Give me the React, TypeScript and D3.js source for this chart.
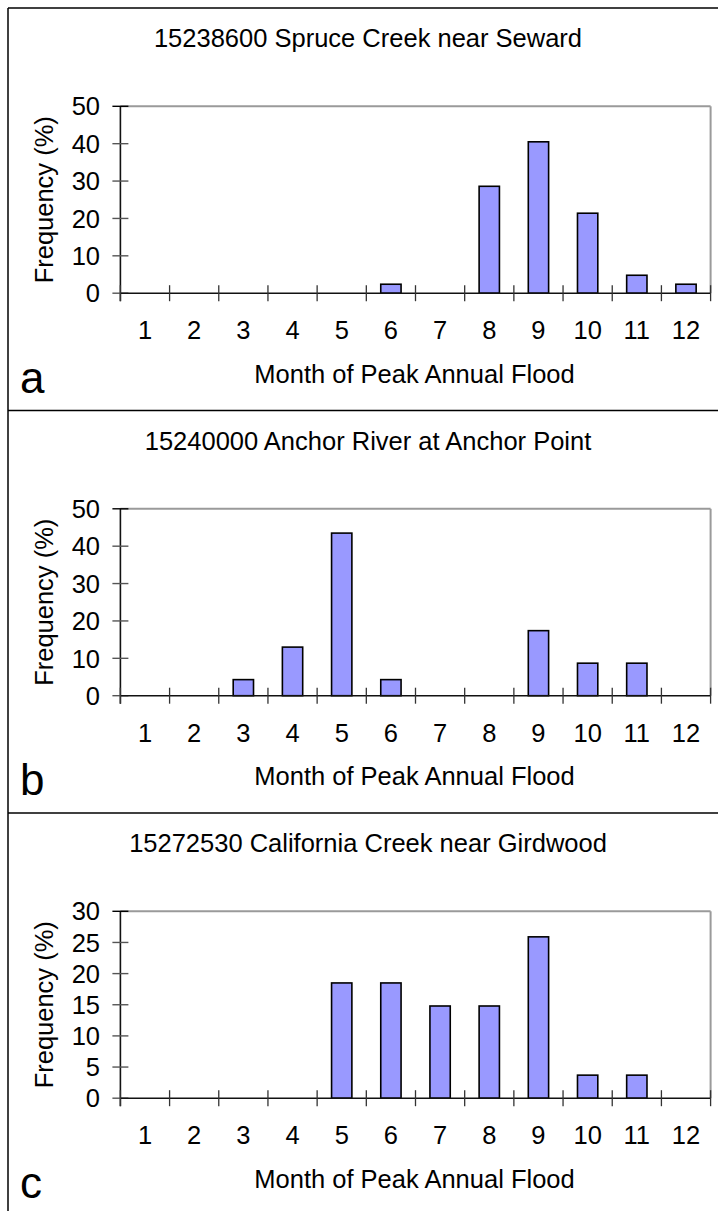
import React from "react";
import * as d3 from "d3";

const months = ["1", "2", "3", "4", "5", "6", "7", "8", "9", "10", "11", "12"];

const titles = [
  "15238600 Spruce Creek near Seward",
  "15240000 Anchor River at Anchor Point",
  "15272530 California Creek near Girdwood",
];
const panelLetters = ["a", "b", "c"];

const spruceValues = [0, 0, 0, 0, 0, 2.4, 0, 28.6, 40.5, 21.4, 4.8, 2.4];
const anchorValues = [0, 0, 4.3, 13.0, 43.5, 4.3, 0, 0, 17.4, 8.7, 8.7, 0];
const californiaValues = [0, 0, 0, 0, 18.5, 18.5, 14.8, 14.8, 25.9, 3.7, 3.7, 0];

const yMaxes = [50, 50, 30];
const yTickSteps = [10, 10, 5];

const xAxisTitle = "Month of Peak Annual Flood";
const yAxisTitle = "Frequency (%)";

const seriesList = [spruceValues, anchorValues, californiaValues];

const W = 718;
const H = 1211;
const FONT = "'Liberation Sans', Arial, Helvetica, sans-serif";
const FS = 25.5;

const plotLeft = 120.4;
const plotRight = 710.6;
const panelTop0 = 8;
const panelH = 402.5;

function Panel({ idx }: { idx: number }) {
  const T = panelTop0 + idx * panelH;
  const top = T + 98.3;
  const bottom = T + 285.2;
  const values = seriesList[idx];
  const yMax = yMaxes[idx];
  const step = yTickSteps[idx];

  const x = d3.scaleBand<string>().domain(months).range([plotLeft, plotRight]).padding(0);
  const xBar = d3
    .scaleBand<string>()
    .domain(months)
    .range([plotLeft, plotRight])
    .paddingInner(0.587)
    .paddingOuter(0.2935);
  const y = d3.scaleLinear().domain([0, yMax]).range([bottom, top]);
  const yTicks = d3.range(0, yMax + 0.001, step);
  const boundaries = months.map((m) => x(m) as number).concat([plotRight]);

  return (
    <g>
      <text
        x={368}
        y={T + 39.3}
        textAnchor="middle"
        fontSize={FS}
        fontFamily={FONT}
        fill="#000"
      >
        {titles[idx]}
      </text>
      {/* plot frame top/right */}
      <line x1={plotLeft} x2={plotRight} y1={top} y2={top} stroke="#9a9a9a" strokeWidth={2} />
      <line x1={plotRight} x2={plotRight} y1={top} y2={bottom} stroke="#9a9a9a" strokeWidth={2} />
      {/* bars */}
      {values.map((v, i) =>
        v > 0 ? (
          <rect
            key={i}
            x={xBar(months[i]) as number}
            y={y(v)}
            width={xBar.bandwidth()}
            height={y(0) - y(v)}
            fill="#9999ff"
            stroke="#000"
            strokeWidth={1.6}
          />
        ) : null
      )}
      {/* y axis */}
      <line x1={plotLeft} x2={plotLeft} y1={top} y2={bottom + 8} stroke="#111" strokeWidth={1.6} />
      {yTicks.map((t) => (
        <g key={t}>
          <line
            x1={plotLeft - 8}
            x2={plotLeft + 8}
            y1={y(t)}
            y2={y(t)}
            stroke={t === yMax ? "#000" : "#555"}
            strokeWidth={1.4}
          />
          <text
            x={100}
            y={y(t)}
            dy="0.36em"
            textAnchor="end"
            fontSize={FS}
            fontFamily={FONT}
            fill="#000"
          >
            {t}
          </text>
        </g>
      ))}
      {/* x axis */}
      <line x1={plotLeft} x2={plotRight} y1={bottom} y2={bottom} stroke="#111" strokeWidth={1.6} />
      {boundaries.map((b, i) => (
        <line
          key={i}
          x1={b}
          x2={b}
          y1={bottom - 8}
          y2={bottom + 8}
          stroke="#333"
          strokeWidth={1.3}
        />
      ))}
      {months.map((m) => (
        <text
          key={m}
          x={(x(m) as number) + x.bandwidth() / 2}
          y={bottom + 46}
          textAnchor="middle"
          fontSize={FS}
          fontFamily={FONT}
          fill="#000"
        >
          {m}
        </text>
      ))}
      <text
        x={(plotLeft + plotRight) / 2 - 1}
        y={T + 374.7}
        textAnchor="middle"
        fontSize={FS}
        fontFamily={FONT}
        fill="#000"
      >
        {xAxisTitle}
      </text>
      <text
        transform={`translate(53.3,${(top + bottom) / 2}) rotate(-90)`}
        textAnchor="middle"
        fontSize={FS}
        fontFamily={FONT}
        fill="#000"
      >
        {yAxisTitle}
      </text>
      <text x={20} y={T + 384.7} fontSize={44} fontFamily={FONT} fill="#000">
        {panelLetters[idx]}
      </text>
    </g>
  );
}

export default function App() {
  return (
    <svg
      width={W}
      height={H}
      style={{ position: "absolute", left: 0, top: 0, display: "block", background: "#fff" }}
    >
      <rect x={0} y={0} width={W} height={H} fill="#fff" />
      {/* outer frame */}
      <line x1={8} x2={8} y1={8} y2={H + 10} stroke="#000" strokeWidth={1.5} />
      <line x1={8} x2={W + 10} y1={8} y2={8} stroke="#000" strokeWidth={1.5} />
      {[1, 2].map((i) => (
        <line
          key={i}
          x1={8}
          x2={W + 10}
          y1={panelTop0 + i * panelH}
          y2={panelTop0 + i * panelH}
          stroke="#000"
          strokeWidth={1.5}
        />
      ))}
      {[0, 1, 2].map((i) => (
        <Panel key={i} idx={i} />
      ))}
    </svg>
  );
}
